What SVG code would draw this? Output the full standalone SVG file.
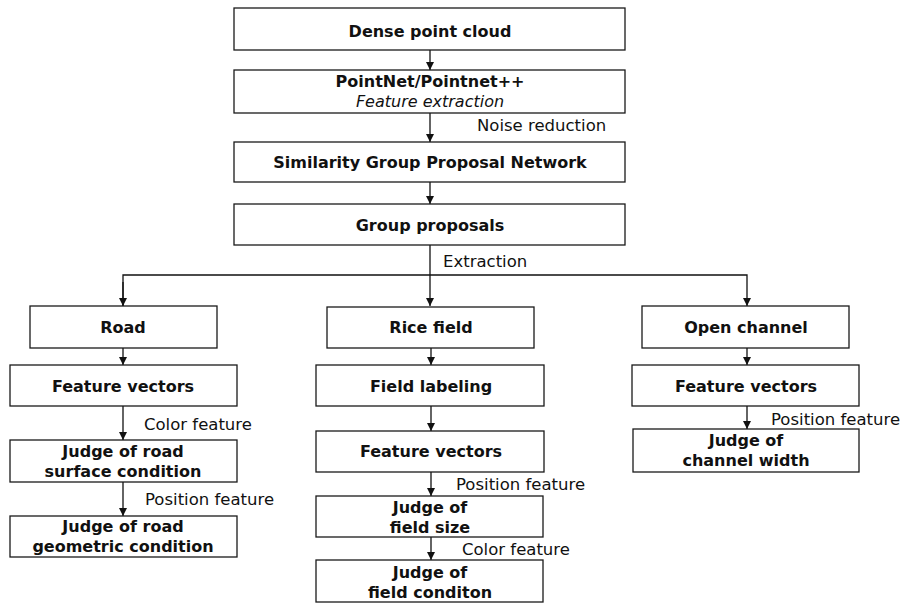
<svg xmlns="http://www.w3.org/2000/svg" width="914" height="604" viewBox="0 0 914 604">
  <style>
    .box { fill: #ffffff; stroke: #1a1a1a; stroke-width: 1.3; }
    .t { font-family: "DejaVu Sans", "Open Sans", sans-serif; font-size: 16px; font-weight: bold; fill: #111; text-anchor: middle; }
    .ti { font-family: "DejaVu Sans", "Open Sans", sans-serif; font-size: 16px; font-style: italic; fill: #111; text-anchor: middle; }
    .lbl { font-family: "DejaVu Sans", "Open Sans", sans-serif; font-size: 16.5px; fill: #111; }
    .edge { fill: none; stroke: #111; stroke-width: 1.3; }
  </style>
  <defs>
    <marker id="arrow" viewBox="0 0 8 8" refX="8" refY="4" markerWidth="8" markerHeight="8" markerUnits="userSpaceOnUse" orient="auto">
      <path d="M0,0 L8,4 L0,8 Z" fill="#111"/>
    </marker>
  </defs>

  <rect width="914" height="604" fill="#ffffff"/>

  <g id="connectors">
    <line class="edge" x1="430" y1="50" x2="430" y2="70" marker-end="url(#arrow)"/>
    <line class="edge" x1="430" y1="113" x2="430" y2="142" marker-end="url(#arrow)"/>
    <line class="edge" x1="430" y1="182" x2="430" y2="204" marker-end="url(#arrow)"/>
    <line class="edge" x1="430" y1="245" x2="430" y2="306" marker-end="url(#arrow)"/>
    <polyline class="edge" points="123,306 123,275 747,275 747,306" marker-end="url(#arrow)"/>
    <line class="edge" x1="123" y1="282" x2="123" y2="306" marker-end="url(#arrow)"/>
    <!-- road column -->
    <line class="edge" x1="123" y1="348" x2="123" y2="365" marker-end="url(#arrow)"/>
    <line class="edge" x1="123" y1="406" x2="123" y2="440" marker-end="url(#arrow)"/>
    <line class="edge" x1="123" y1="482" x2="123" y2="516" marker-end="url(#arrow)"/>
    <!-- rice field column -->
    <line class="edge" x1="431" y1="348" x2="431" y2="365" marker-end="url(#arrow)"/>
    <line class="edge" x1="431" y1="406" x2="431" y2="431" marker-end="url(#arrow)"/>
    <line class="edge" x1="431" y1="472" x2="431" y2="496" marker-end="url(#arrow)"/>
    <line class="edge" x1="431" y1="537" x2="431" y2="560" marker-end="url(#arrow)"/>
    <!-- open channel column -->
    <line class="edge" x1="747" y1="348" x2="747" y2="365" marker-end="url(#arrow)"/>
    <line class="edge" x1="747" y1="406" x2="747" y2="429" marker-end="url(#arrow)"/>

    <text class="lbl" x="477" y="131">Noise reduction</text>
    <text class="lbl" x="443" y="267">Extraction</text>
    <text class="lbl" x="144" y="430">Color feature</text>
    <text class="lbl" x="145" y="505">Position feature</text>
    <text class="lbl" x="456" y="490">Position feature</text>
    <text class="lbl" x="462" y="555">Color feature</text>
    <text class="lbl" x="771" y="425">Position feature</text>
  </g>

  <g id="dense-point-cloud">
    <rect class="box" x="234" y="8" width="391" height="42"/>
    <text class="t" x="430" y="37">Dense point cloud</text>
  </g>
  <g id="pointnet">
    <rect class="box" x="234" y="70" width="391" height="43"/>
    <text class="t" x="430" y="87">PointNet/Pointnet++</text>
    <text class="ti" x="430" y="107">Feature extraction</text>
  </g>
  <g id="sgpn">
    <rect class="box" x="234" y="142" width="391" height="40"/>
    <text class="t" x="430" y="168">Similarity Group Proposal Network</text>
  </g>
  <g id="group-proposals">
    <rect class="box" x="234" y="204" width="391" height="41"/>
    <text class="t" x="430" y="231">Group proposals</text>
  </g>

  <g id="road">
    <rect class="box" x="30" y="306" width="187" height="42"/>
    <text class="t" x="123" y="333">Road</text>
  </g>
  <g id="road-feature-vectors">
    <rect class="box" x="10" y="365" width="227" height="41"/>
    <text class="t" x="123" y="392">Feature vectors</text>
  </g>
  <g id="road-surface">
    <rect class="box" x="10" y="440" width="227" height="42"/>
    <text class="t" x="123" y="457">Judge of  road</text>
    <text class="t" x="123" y="477">surface condition</text>
  </g>
  <g id="road-geometric">
    <rect class="box" x="10" y="516" width="227" height="41"/>
    <text class="t" x="123" y="532">Judge of road</text>
    <text class="t" x="123" y="552">geometric condition</text>
  </g>

  <g id="rice-field">
    <rect class="box" x="327" y="307" width="207" height="41"/>
    <text class="t" x="431" y="333">Rice field</text>
  </g>
  <g id="field-labeling">
    <rect class="box" x="316" y="365" width="228" height="41"/>
    <text class="t" x="431" y="392">Field labeling</text>
  </g>
  <g id="rice-feature-vectors">
    <rect class="box" x="316" y="431" width="228" height="41"/>
    <text class="t" x="431" y="457">Feature vectors</text>
  </g>
  <g id="field-size">
    <rect class="box" x="316" y="496" width="227" height="41"/>
    <text class="t" x="430" y="513">Judge of</text>
    <text class="t" x="430" y="533">field size</text>
  </g>
  <g id="field-condition">
    <rect class="box" x="316" y="560" width="227" height="42"/>
    <text class="t" x="430" y="578">Judge of</text>
    <text class="t" x="430" y="598">field conditon</text>
  </g>

  <g id="open-channel">
    <rect class="box" x="642" y="306" width="207" height="42"/>
    <text class="t" x="746" y="333">Open channel</text>
  </g>
  <g id="channel-feature-vectors">
    <rect class="box" x="632" y="365" width="227" height="41"/>
    <text class="t" x="746" y="392">Feature vectors</text>
  </g>
  <g id="channel-width">
    <rect class="box" x="633" y="429" width="226" height="43"/>
    <text class="t" x="746" y="446">Judge of</text>
    <text class="t" x="746" y="466">channel width</text>
  </g>
</svg>
